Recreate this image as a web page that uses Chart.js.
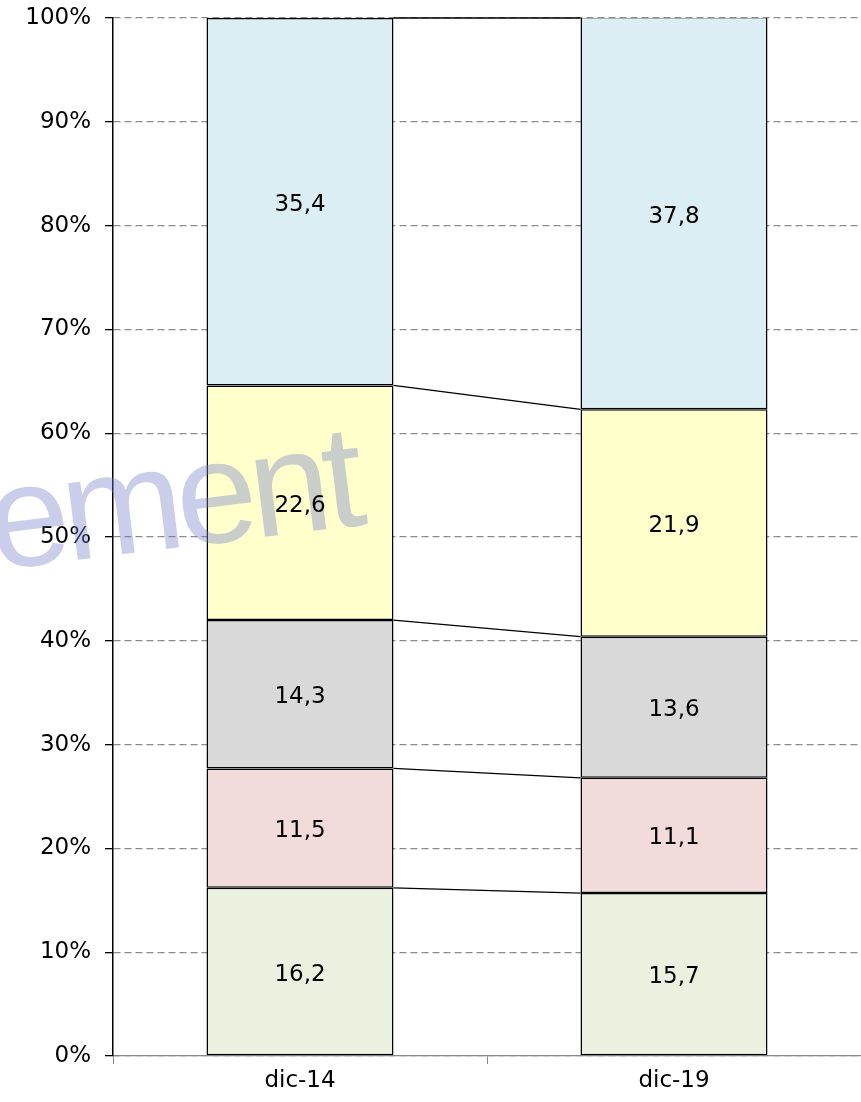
<!DOCTYPE html>
<html>
<head>
<meta charset="utf-8">
<script src="https://cdn.jsdelivr.net/npm/chart.js@4/dist/chart.umd.min.js"></script>
<style>
  html, body { margin: 0; padding: 0; background: #fff; }
  #wrap { width: 861px; height: 1102px; position: relative; }
</style>
</head>
<body>
<div id="wrap"><canvas id="c" width="861" height="1102"></canvas></div>
<script>
const categories = ['dic-14', 'dic-19'];
const series1 = [16.2, 15.7];
const series2 = [11.5, 11.1];
const series3 = [14.3, 13.6];
const series4 = [22.6, 21.9];
const series5 = [35.4, 37.8];
const seriesColors = ['#EBF1DE', '#F2DCDB', '#D9D9D9', '#FFFFCC', '#DAEEF3'];
const watermarkText = 'ement';

const allSeries = [series1, series2, series3, series4, series5];
const FONT = '"DejaVu Sans", sans-serif';
const WFONT = '"Liberation Sans", Arial, sans-serif';

const overlay = {
  id: 'overlay',
  afterDatasetsDraw(chart) {
    const ctx = chart.ctx;
    // watermark (drawn char by char with tight spacing)
    ctx.save();
    ctx.translate(-6, 570);
    ctx.rotate(-7 * Math.PI / 180);
    ctx.font = '146px ' + WFONT;
    ctx.fillStyle = 'rgba(115,125,200,0.38)';
    ctx.textAlign = 'left';
    ctx.textBaseline = 'alphabetic';
    let x = 0;
    for (const ch of watermarkText) {
      ctx.fillText(ch, x, 0);
      x += ctx.measureText(ch).width - 7;
    }
    ctx.restore();

    // connector lines between stacks
    ctx.save();
    ctx.strokeStyle = '#000';
    ctx.lineWidth = 1.3;
    for (let d = 0; d < chart.data.datasets.length; d++) {
      const meta = chart.getDatasetMeta(d);
      const a = meta.data[0], b = meta.data[1];
      const ya = Math.max(a.y, chart.chartArea.top);
      const yb = Math.max(b.y, chart.chartArea.top);
      ctx.beginPath();
      ctx.moveTo(a.x + a.width / 2, ya);
      ctx.lineTo(b.x - b.width / 2, yb);
      ctx.stroke();
    }
    ctx.restore();

    // value labels
    ctx.save();
    ctx.font = '23px ' + FONT;
    ctx.fillStyle = '#000';
    ctx.textAlign = 'center';
    ctx.textBaseline = 'middle';
    chart.data.datasets.forEach((ds, d) => {
      const meta = chart.getDatasetMeta(d);
      meta.data.forEach((el, i) => {
        const top = Math.max(el.y, chart.chartArea.top);
        const yc = (top + el.base) / 2 + 3;
        ctx.fillText(ds.data[i].toFixed(1).replace('.', ','), el.x, yc);
      });
    });
    ctx.restore();
  }
};

new Chart(document.getElementById('c'), {
  type: 'bar',
  data: {
    labels: categories,
    datasets: allSeries.map((s, i) => ({
      data: s,
      backgroundColor: seriesColors[i],
      borderColor: '#000',
      borderWidth: 1.5,
      borderSkipped: false,
      categoryPercentage: 1.0,
      barPercentage: 0.5
    }))
  },
  options: {
    responsive: false,
    animation: false,
    layout: { padding: { top: 18, right: 0, left: 0, bottom: 0 } },
    plugins: { legend: { display: false }, tooltip: { enabled: false } },
    scales: {
      x: {
        stacked: true,
        offset: true,
        grid: {
          display: true,
          drawOnChartArea: false,
          drawTicks: true,
          tickLength: 8,
          offset: true,
          color: '#888',
          tickColor: '#888'
        },
        border: { display: true, color: '#888', width: 1.3 },
        ticks: {
          color: '#000',
          font: { family: FONT, size: 23 },
          padding: 3
        },
        afterFit(scale) { scale.height = 46; }
      },
      y: {
        stacked: true,
        min: 0,
        max: 100,
        grid: {
          color: '#8a8a8a',
          lineWidth: 1.3,
          tickLength: 8,
          tickColor: '#000',
          tickBorderDash: []
        },
        border: { display: true, color: '#000', width: 1.5, dash: [7, 4] },
        ticks: {
          stepSize: 10,
          color: '#000',
          padding: 14,
          font: { family: FONT, size: 23 },
          callback: v => v + '%'
        },
        afterFit(scale) {
          scale.width = 113;
          scale.paddingTop = 0;
          scale.paddingBottom = 0;
        }
      }
    }
  },
  plugins: [overlay]
});
</script>
</body>
</html>
